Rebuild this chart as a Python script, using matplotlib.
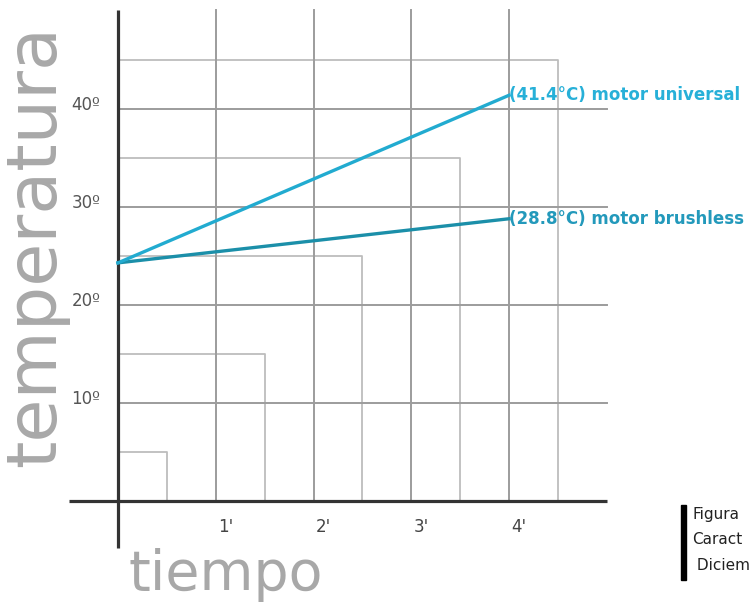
import matplotlib
matplotlib.use("Agg")
import matplotlib.pyplot as plt
from matplotlib.patches import Rectangle

# ---- data ----
minutes = [0, 4]
universal = [24.3, 41.4]
brushless = [24.3, 28.8]
label_universal = "(41.4°C) motor universal"
label_brushless = "(28.8°C) motor brushless"
x_ticks = [1, 2, 3, 4]
x_ticklabels = ["1'", "2'", "3'", "4'"]
y_ticks = [10, 20, 30, 40]
y_ticklabels = ["10º", "20º", "30º", "40º"]
box_sizes = [(0.5, 5), (1.5, 15), (2.5, 25), (3.5, 35), (4.5, 45)]
caption_lines = ["Figura", "Caract", " Diciem"]

W, H = 753, 607
fig = plt.figure(figsize=(W / 100, H / 100), dpi=100)
ax = fig.add_axes([0, 0, 1, 1])
x0px, y0px = 118, 501
sx, sy = 97.75, 9.8
ax.set_xlim(-x0px / sx, (W - x0px) / sx)
ax.set_ylim(-(H - y0px) / sy, y0px / sy)
ax.axis("off")

# nested boxes (light)
for bw, bh in box_sizes:
    ax.plot([0, bw, bw], [bh, bh, 0], color="#bdbdbd", lw=1.3, zorder=1,
            solid_capstyle="butt")

# major grid
for t in x_ticks:
    ax.plot([t, t], [0, 50.1], color="#9c9c9c", lw=1.4, zorder=2)
for v in y_ticks:
    ax.plot([0, 5.0], [v, v], color="#9c9c9c", lw=1.4, zorder=2)

# axes
ax.plot([0, 0], [-4.8, 50.1], color="#333333", lw=2.3, zorder=4,
        solid_capstyle="butt")
ax.plot([-0.5, 5.0], [0, 0], color="#333333", lw=2.3, zorder=4,
        solid_capstyle="butt")

# data lines
ax.plot(minutes, brushless, color="#1b8fa9", lw=2.4, zorder=5)
ax.plot(minutes, universal, color="#22abd0", lw=2.4, zorder=6)

ax.text(minutes[-1] + 0.0, universal[-1], label_universal, color="#27b0d8",
        fontsize=12, fontweight="bold", ha="left", va="center", zorder=7)
ax.text(minutes[-1] + 0.0, brushless[-1], label_brushless, color="#2399bb",
        fontsize=12, fontweight="bold", ha="left", va="center", zorder=7)

# tick labels
for t, lab in zip(x_ticks, x_ticklabels):
    ax.text(t + 0.1, -2.65, lab, fontsize=12, color="#444444",
            ha="center", va="center")
for v, lab in zip(y_ticks, y_ticklabels):
    ax.text(-0.18, v + 0.4, lab, fontsize=12, color="#555555",
            ha="right", va="center")

# axis titles
ax.text(-0.84, 26.0, "temperatura", rotation=90, fontsize=50.5,
        color="#a8a8a8", ha="center", va="center")
ax.text(0.11, -9.08, "tiempo", fontsize=40, color="#a8a8a8",
        ha="left", va="baseline")

# caption block at bottom right
fig.add_artist(Rectangle((681 / W, 1 - 580 / H), 5 / W, 75 / H,
                         transform=fig.transFigure, color="black"))
for i, line in enumerate(caption_lines):
    fig.text(692 / W, 1 - (515 + i * 25) / H, line, fontsize=11,
             color="#222222", ha="left", va="center")

fig.savefig("out.png", dpi=100)
